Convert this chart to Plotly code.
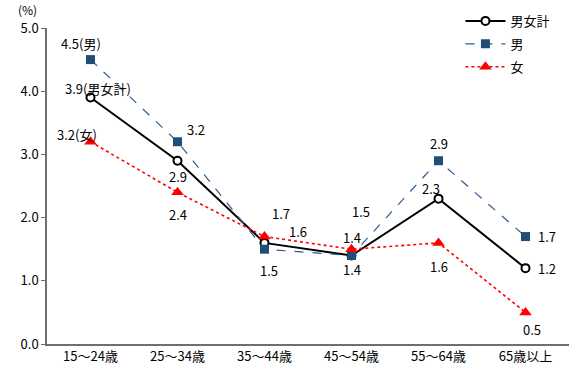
import plotly.graph_objects as go

categories = ["15～24歳", "25～34歳", "35～44歳", "45～54歳", "55～64歳", "65歳以上"]
total = [3.9, 2.9, 1.6, 1.4, 2.3, 1.2]
male = [4.5, 3.2, 1.5, 1.4, 2.9, 1.7]
female = [3.2, 2.4, 1.7, 1.5, 1.6, 0.5]
y_ticks = [0, 1, 2, 3, 4, 5]

# label text per series and point, with pixel offsets (xshift, yshift)
total_labels = ["3.9(男女計)", "2.9", "1.6", "1.4", "2.3", "1.2"]
total_offsets = [(7, 9), (0, -16), (33, 11), (0, 18), (-8, 10), (21, 0)]
male_labels = ["4.5(男)", "3.2", "1.5", "1.4", "2.9", "1.7"]
male_offsets = [(-10, 16), (18, 12), (4, -21), (0, -14), (0, 17), (21, 0)]
female_labels = ["3.2(女)", "2.4", "1.7", "1.5", "1.6", "0.5"]
female_offsets = [(-14, 7), (0, -22), (16, 23), (9, 38), (0, -24), (6, -17)]

FONT = "Noto Sans CJK JP"

fig = go.Figure()
fig.add_trace(go.Scatter(
    x=categories, y=total, name="男女計", mode="lines+markers", legendgroup="t",
    line=dict(color="black", width=2),
    marker=dict(symbol="circle", size=8, color="white",
                line=dict(color="black", width=2)),
))
fig.add_trace(go.Scatter(
    x=categories, y=male, name="男", mode="lines+markers", legendgroup="m",
    line=dict(color="#2F5C8F", width=1.2, dash="dash"),
    marker=dict(symbol="square", size=9, color="#1F4E79"),
))
fig.add_trace(go.Scatter(
    x=categories, y=female, name="女", mode="lines+markers", legendgroup="f",
    line=dict(color="#FF0000", width=1.6, dash="dot"),
    marker=dict(symbol="triangle-up", size=11, color="#FF0000"),
))

annotations = []
for labels, offsets, vals in [(total_labels, total_offsets, total),
                              (male_labels, male_offsets, male),
                              (female_labels, female_offsets, female)]:
    for cat, v, lab, (dx, dy) in zip(categories, vals, labels, offsets):
        annotations.append(dict(
            x=cat, y=v, text=lab, showarrow=False,
            xshift=dx, yshift=dy,
            font=dict(family=FONT, size=13, color="black"),
        ))
annotations.append(dict(
    xref="paper", yref="paper", x=-0.037, y=1.0, yshift=19,
    text="(%)", showarrow=False, xanchor="center", yanchor="middle",
    font=dict(family=FONT, size=12, color="black"),
))

fig.update_layout(
    width=577, height=371,
    margin=dict(l=47, r=8, t=28, b=27, autoexpand=False),
    paper_bgcolor="white", plot_bgcolor="white",
    font=dict(family=FONT, size=12, color="black"),
    annotations=annotations,
    showlegend=True,
    legend=dict(
        xref="container", yref="container",
        x=0.798, y=0.984, xanchor="left", yanchor="top",
        bgcolor="rgba(255,255,255,0)",
        font=dict(family=FONT, size=13, color="black"),
        tracegroupgap=3, itemwidth=40,
    ),
    xaxis=dict(
        range=[-0.5, 5.5],
        showline=True, linecolor="#6f6f6f", linewidth=1.5,
        showgrid=False, ticks="", zeroline=False,
        tickfont=dict(family=FONT, size=13),
    ),
    yaxis=dict(
        range=[0, 5], tickvals=y_ticks, tickformat=".1f",
        showline=True, linecolor="#6f6f6f", linewidth=1.5,
        showgrid=False, zeroline=False,
        ticks="outside", ticklen=4, tickcolor="#6f6f6f",
        tickfont=dict(family=FONT, size=13),
    ),
)

fig.write_html(
    "out.html",
    config={"displayModeBar": False},
    post_script="document.body.style.margin='0';document.body.style.overflow='hidden';",
)
